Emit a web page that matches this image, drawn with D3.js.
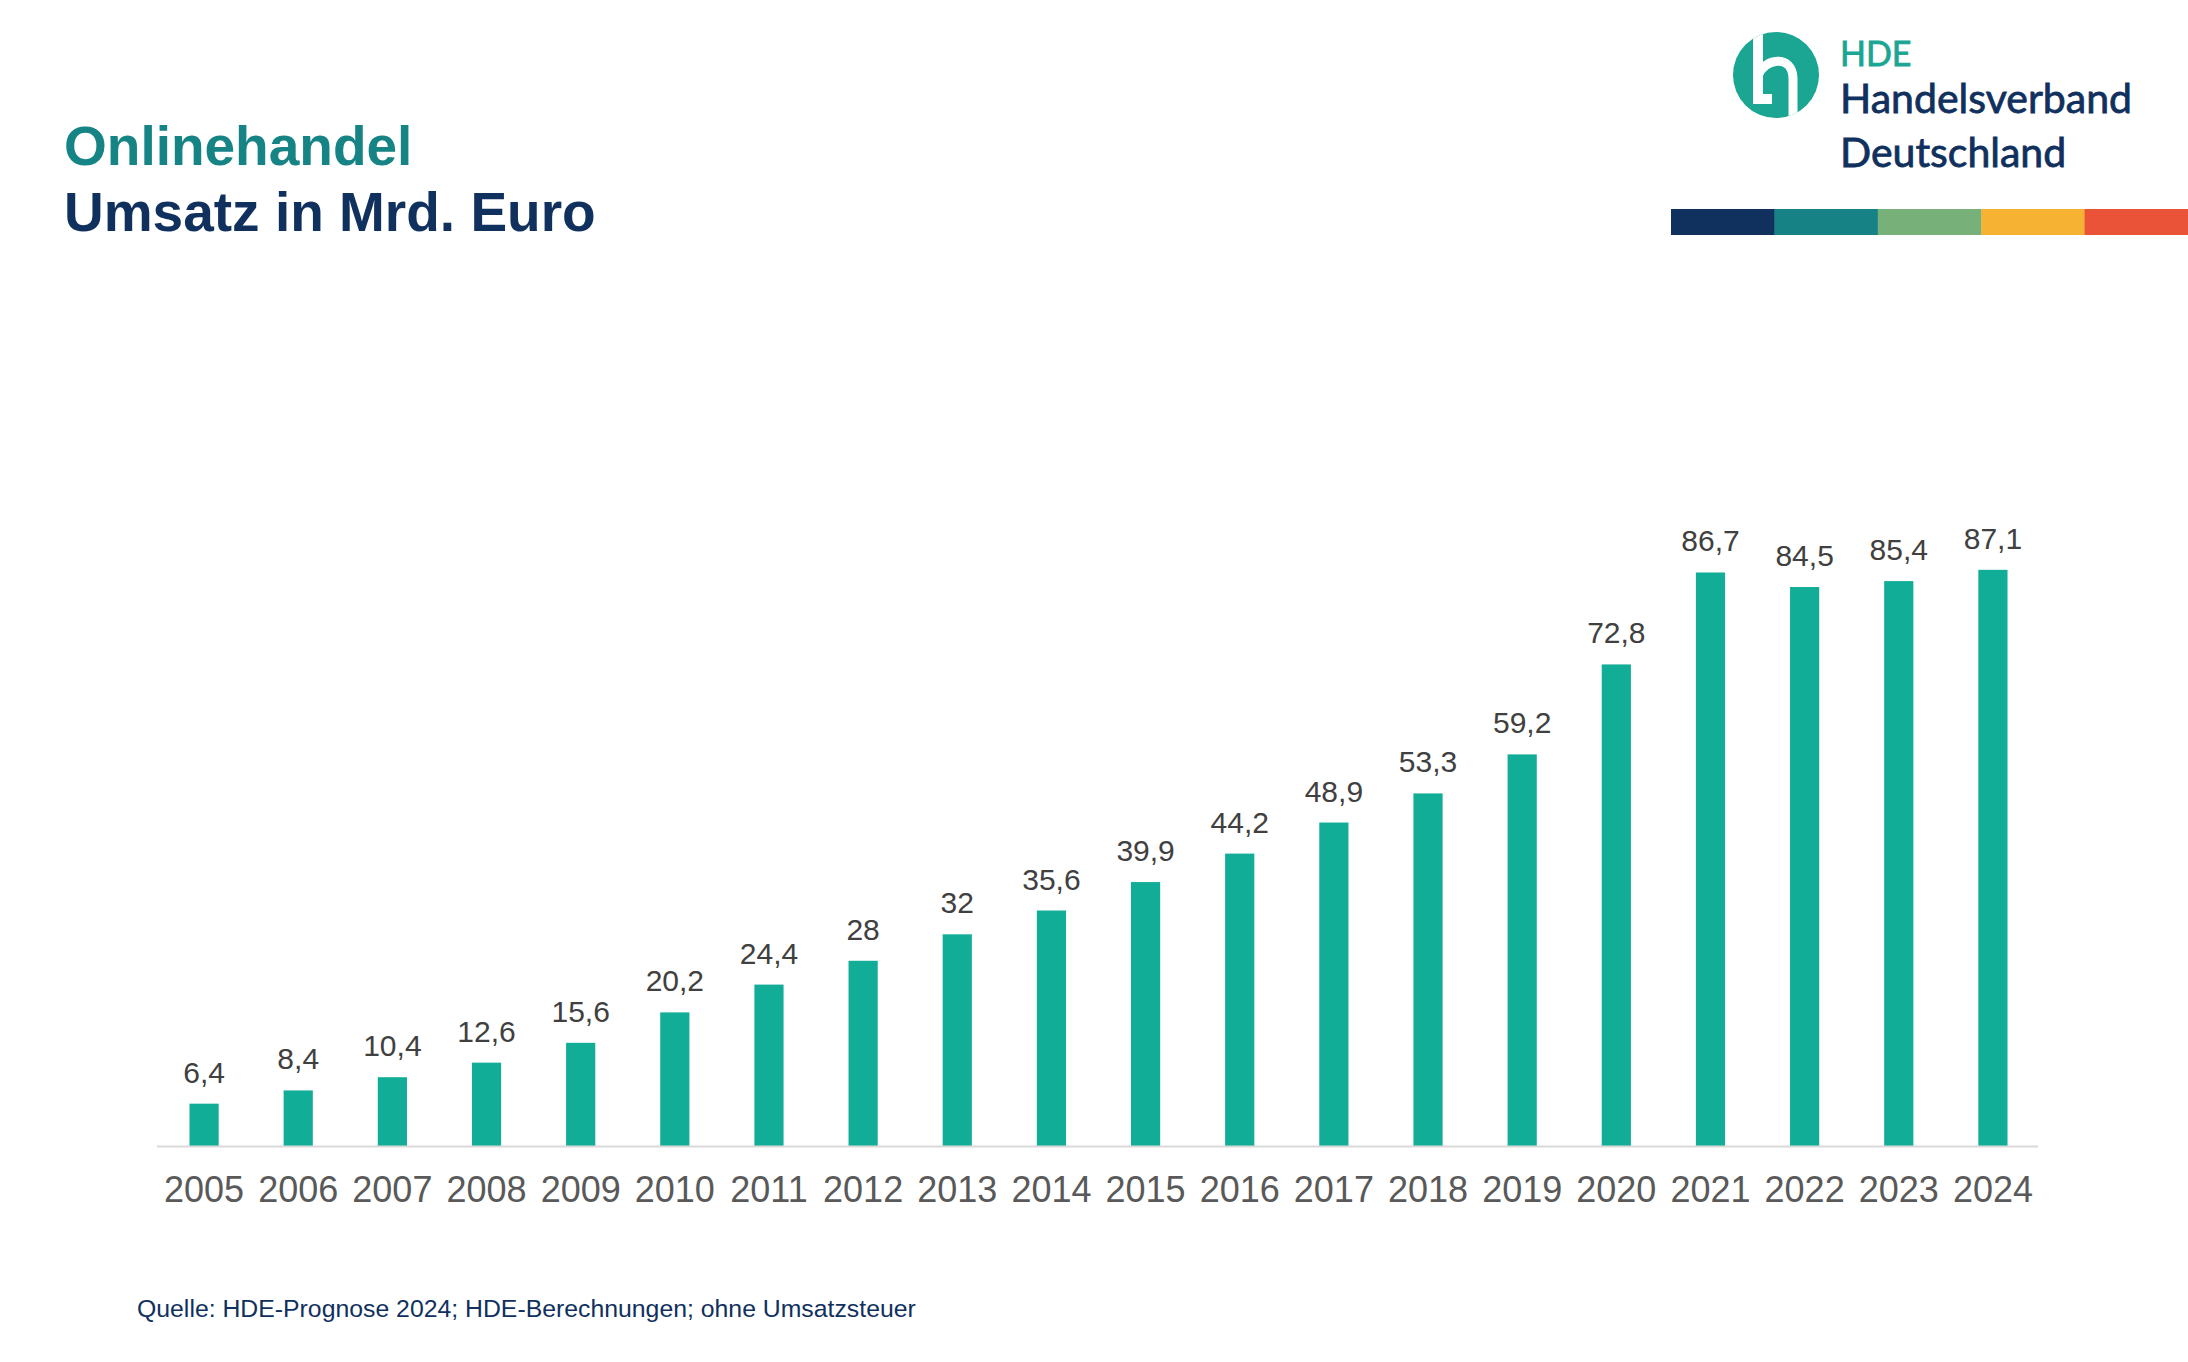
<!DOCTYPE html>
<html>
<head>
<meta charset="utf-8">
<script src="https://cdn.jsdelivr.net/npm/d3@7"></script>
<style>
  html, body { margin: 0; padding: 0; background: #ffffff; }
  svg { display: block; }
</style>
</head>
<body>
<svg id="chart" width="2188" height="1362"></svg>
<script>
// ---- data ----
const years = ["2005","2006","2007","2008","2009","2010","2011","2012","2013","2014",
               "2015","2016","2017","2018","2019","2020","2021","2022","2023","2024"];
const umsatz = [6.4, 8.4, 10.4, 12.6, 15.6, 20.2, 24.4, 28, 32, 35.6,
                39.9, 44.2, 48.9, 53.3, 59.2, 72.8, 86.7, 84.5, 85.4, 87.1];
const titleLines = ["Onlinehandel", "Umsatz in Mrd. Euro"];
const sourceText = "Quelle: HDE-Prognose 2024; HDE-Berechnungen; ohne Umsatzsteuer";
const logoLines = ["HDE", "Handelsverband", "Deutschland"];
const stripeColors = ["#10305e", "#168285", "#78b07a", "#f6b233", "#ea5338"];

const svg = d3.select("#chart");
const fmt = v => String(v).replace(".", ",");

// ---- scales ----
const x = d3.scaleBand().domain(years).range([157, 2040]).paddingInner(0.69).paddingOuter(0.345);
const y = d3.scaleLinear().domain([0, 100]).range([1146, 484.5]);

// ---- bars ----
svg.append("g").selectAll("rect").data(years).join("rect")
  .attr("x", d => x(d))
  .attr("width", x.bandwidth())
  .attr("y", (d, i) => y(umsatz[i]))
  .attr("height", (d, i) => y(0) - y(umsatz[i]))
  .attr("fill", "#12ad97");

// ---- value labels ----
svg.append("g").selectAll("text").data(years).join("text")
  .attr("x", d => x(d) + x.bandwidth() / 2)
  .attr("y", (d, i) => y(umsatz[i]) - 21)
  .attr("text-anchor", "middle")
  .attr("font-family", "'Liberation Sans', Arial, sans-serif")
  .attr("font-size", 30)
  .attr("fill", "#404040")
  .text((d, i) => fmt(umsatz[i]));

// ---- x axis ----
const xAxis = d3.axisBottom(x).tickSize(0).tickPadding(0);
const ax = svg.append("g").attr("transform", `translate(0,${y(0)})`).call(xAxis);
ax.select(".domain").attr("d", "M157,0.5H2038").attr("stroke", "#d9d9d9").attr("stroke-width", 2);
ax.selectAll(".tick text")
  .attr("y", 56)
  .attr("dy", 0)
  .attr("font-family", "'Liberation Sans', Arial, sans-serif")
  .attr("font-size", 36)
  .attr("fill", "#595959");

// ---- title ----
svg.append("text").attr("x", 64).attr("y", 165)
  .attr("font-family", "'Liberation Sans', Arial, sans-serif")
  .attr("font-weight", "bold").attr("font-size", 55).attr("fill", "#168385")
  .text(titleLines[0]);
svg.append("text").attr("x", 64).attr("y", 231)
  .attr("font-family", "'Liberation Sans', Arial, sans-serif")
  .attr("font-weight", "bold").attr("font-size", 55).attr("fill", "#10305e")
  .text(titleLines[1]);

// ---- source ----
svg.append("text").attr("x", 137).attr("y", 1317)
  .attr("font-family", "'Liberation Sans', Arial, sans-serif")
  .attr("font-size", 24.8).attr("fill", "#10305e")
  .text(sourceText);

// ---- logo ----
const logo = svg.append("g");
logo.append("clipPath").attr("id", "lc").append("circle").attr("cx", 1776).attr("cy", 75).attr("r", 43);
logo.append("circle").attr("cx", 1776).attr("cy", 75).attr("r", 43).attr("fill", "#1ba593");
const hg = logo.append("g").attr("clip-path", "url(#lc)");
hg.append("path").attr("d", "M1758,20 V99 H1772").attr("fill", "none")
  .attr("stroke", "#fff").attr("stroke-width", 10);
hg.append("path").attr("d", "M1758,76 C1764,58 1792,54 1793,78 V130").attr("fill", "none")
  .attr("stroke", "#fff").attr("stroke-width", 9);

const logoFont = "Lato, 'Open Sans', sans-serif";
logo.append("text").attr("x", 1840).attr("y", 66).attr("font-family", logoFont)
  .attr("font-size", 34).attr("fill", "#1ba593")
  .attr("stroke", "#1ba593").attr("stroke-width", 0.8).text(logoLines[0]);
logo.append("text").attr("x", 1840).attr("y", 113).attr("font-family", logoFont)
  .attr("font-size", 41).attr("fill", "#10305e")
  .attr("stroke", "#10305e").attr("stroke-width", 0.8).text(logoLines[1]);
logo.append("text").attr("x", 1840).attr("y", 167).attr("font-family", logoFont)
  .attr("font-size", 41).attr("fill", "#10305e")
  .attr("stroke", "#10305e").attr("stroke-width", 0.8).text(logoLines[2]);

// ---- colour stripe ----
const sx = d3.scaleBand().domain(d3.range(stripeColors.length)).range([1671, 2188]);
logo.append("g").selectAll("rect").data(stripeColors).join("rect")
  .attr("x", (d, i) => sx(i)).attr("y", 209)
  .attr("width", sx.bandwidth() + 0.5).attr("height", 26)
  .attr("fill", d => d);
</script>
</body>
</html>
